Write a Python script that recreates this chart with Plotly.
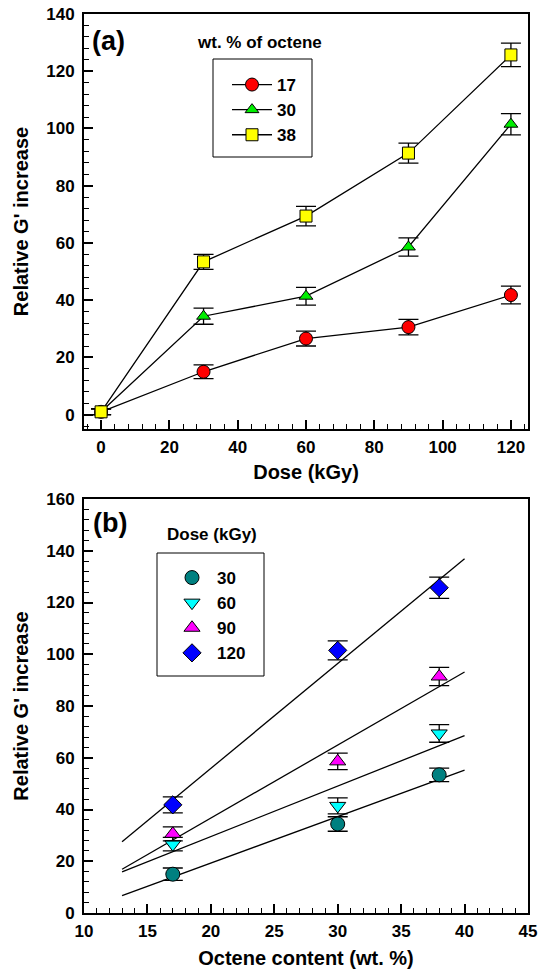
import numpy as np
import plotly.graph_objects as go

# ---------------- data ----------------
dose = [0, 30, 60, 90, 120]                 # kGy
octene_levels = ["17", "30", "38"]          # wt. %
g_17 = [1.0, 15.0, 26.6, 30.6, 41.8]
g_30 = [1.0, 34.4, 41.4, 58.6, 101.5]
g_38 = [1.0, 53.4, 69.4, 91.4, 125.7]
err_17 = [1.0, 2.4, 2.6, 2.7, 3.1]
err_30 = [1.0, 2.8, 3.1, 3.2, 3.7]
err_38 = [1.0, 2.6, 3.4, 3.5, 4.1]

octene = [17, 30, 38]
dose_levels = ["30", "60", "90", "120"]
fit_x = [13, 40]

# ---------------- style ----------------
FONT = "Liberation Sans, Arial, sans-serif"
W, H = 544, 973
ML, MR, MT, MB = 84, 16, 14, 60
PW, PH = W - ML - MR, H - MT - MB


def px_x(p):
    return (p - ML) / PW


def px_y(p):
    return (H - MB - p) / PH


dom_a = [px_y(429), px_y(14)]
dom_b = [px_y(913), px_y(499)]

fig = go.Figure()

# ---------- panel (a) ----------
series_a = [
    ("17", g_17, err_17, "circle", "#FF0000", 13),
    ("30", g_30, err_30, "triangle-up", "#00EE00", 12),
    ("38", g_38, err_38, "square", "#FFFF00", 12),
]
for name, ys, es, sym, col, sz in series_a:
    fig.add_trace(go.Scatter(
        x=dose, y=ys, name=name, mode="lines+markers",
        line=dict(color="black", width=1.3),
        marker=dict(symbol=sym, color=col, size=sz, line=dict(color="black", width=1)),
        error_y=dict(type="data", array=es, visible=True, color="black", thickness=1.3, width=10),
        xaxis="x", yaxis="y", legend="legend",
    ))

# ---------- panel (b) ----------
by_octene = [g_17, g_30, g_38]
err_by_octene = [err_17, err_30, err_38]
series_b = [
    ("30", "circle", "#008080", 14),
    ("60", "triangle-down", "#00FFFF", 14),
    ("90", "triangle-up", "#FF00FF", 14),
    ("120", "diamond", "#0000FF", 14),
]
for name, sym, col, sz in series_b:
    di = dose.index(int(name))
    ys = [g[di] for g in by_octene]
    slope, icpt = np.polyfit(octene, ys, 1)
    fig.add_trace(go.Scatter(
        x=fit_x, y=[slope * v + icpt for v in fit_x], mode="lines",
        line=dict(color="black", width=1.3), showlegend=False,
        hoverinfo="skip", xaxis="x2", yaxis="y2",
    ))
for name, sym, col, sz in series_b:
    di = dose.index(int(name))
    ys = [g[di] for g in by_octene]
    es = [e[di] for e in err_by_octene]
    fig.add_trace(go.Scatter(
        x=octene, y=ys, name=name, mode="markers",
        marker=dict(symbol=sym, color=col, size=sz, line=dict(color="black", width=1)),
        error_y=dict(type="data", array=es, visible=True, color="black", thickness=1.3, width=10),
        xaxis="x2", yaxis="y2", legend="legend2",
    ))

tickfont = dict(family=FONT, size=17, color="black", weight="bold")
titlefont = dict(family=FONT, size=20, color="black", weight="bold")
legfont = dict(family=FONT, size=17, color="black", weight="bold")


def axis(**kw):
    d = dict(
        showline=True, linecolor="black", linewidth=2, mirror=True,
        ticks="inside", ticklen=9, tickwidth=1.5, tickcolor="black",
        showgrid=False, zeroline=False, tickfont=tickfont,
        minor=dict(ticks="inside", ticklen=5, tickwidth=1.2, tickcolor="black", showgrid=False),
    )
    d.update(kw)
    return d


fig.update_layout(
    width=W, height=H,
    margin=dict(l=ML, r=MR, t=MT, b=MB, autoexpand=False),
    paper_bgcolor="white", plot_bgcolor="white",
    showlegend=True,
    xaxis=axis(domain=[0, 1], range=[-5, 125], tickmode="array", tickvals=[0, 20, 40, 60, 80, 100, 120],
               minor_tickmode="linear", minor_tick0=0, minor_dtick=4, anchor="y", ticklabelstandoff=2,
               title=dict(text="Dose (kGy)", font=titlefont, standoff=9)),
    yaxis=axis(domain=dom_a, range=[-5, 140], tickmode="array", tickvals=[0, 20, 40, 60, 80, 100, 120, 140],
               minor_tickmode="linear", minor_tick0=0, minor_dtick=4, anchor="x", ticklabelstandoff=4,
               title=dict(text="Relative G' increase", font=titlefont, standoff=12)),
    xaxis2=axis(domain=[0, 1], range=[10, 45], dtick=5, tick0=10,
                minor_tickmode="linear", minor_tick0=10, minor_dtick=1, anchor="y2", ticklabelstandoff=2,
                title=dict(text="Octene content (wt. %)", font=titlefont, standoff=11)),
    yaxis2=axis(domain=dom_b, range=[0, 160], dtick=20, tick0=0,
                minor_tickmode="linear", minor_tick0=0, minor_dtick=4, anchor="x2", ticklabelstandoff=4,
                title=dict(text="Relative G' increase", font=titlefont, standoff=12)),
    legend=dict(x=px_x(227), y=px_y(67), xanchor="left", yanchor="top",
                bgcolor="rgba(0,0,0,0)", borderwidth=0, itemwidth=40, font=legfont),
    legend2=dict(x=px_x(167), y=px_y(560), xanchor="left", yanchor="top",
                 bgcolor="rgba(0,0,0,0)", borderwidth=0, itemwidth=40, font=legfont),
    shapes=[
        dict(type="rect", xref="paper", yref="paper", x0=px_x(213), x1=px_x(312), y0=px_y(157), y1=px_y(59),
             line=dict(color="black", width=1)),
        dict(type="rect", xref="paper", yref="paper", x0=px_x(157), x1=px_x(264), y0=px_y(676), y1=px_y(553),
             line=dict(color="black", width=1)),
    ],
    annotations=[
        dict(text="(a)", xref="paper", yref="paper", x=px_x(108), y=px_y(41), showarrow=False,
             font=dict(family=FONT, size=27, color="black", weight="bold"), xanchor="center", yanchor="middle"),
        dict(text="(b)", xref="paper", yref="paper", x=px_x(110), y=px_y(523), showarrow=False,
             font=dict(family=FONT, size=27, color="black", weight="bold"), xanchor="center", yanchor="middle"),
        dict(text="wt. % of octene", xref="paper", yref="paper", x=px_x(259), y=px_y(43), showarrow=False,
             font=dict(family=FONT, size=17, color="black", weight="bold"), xanchor="center", yanchor="middle"),
        dict(text="Dose (kGy)", xref="paper", yref="paper", x=px_x(212), y=px_y(534), showarrow=False,
             font=dict(family=FONT, size=17, color="black", weight="bold"), xanchor="center", yanchor="middle"),
    ],
)

fig.write_html("out.html")
